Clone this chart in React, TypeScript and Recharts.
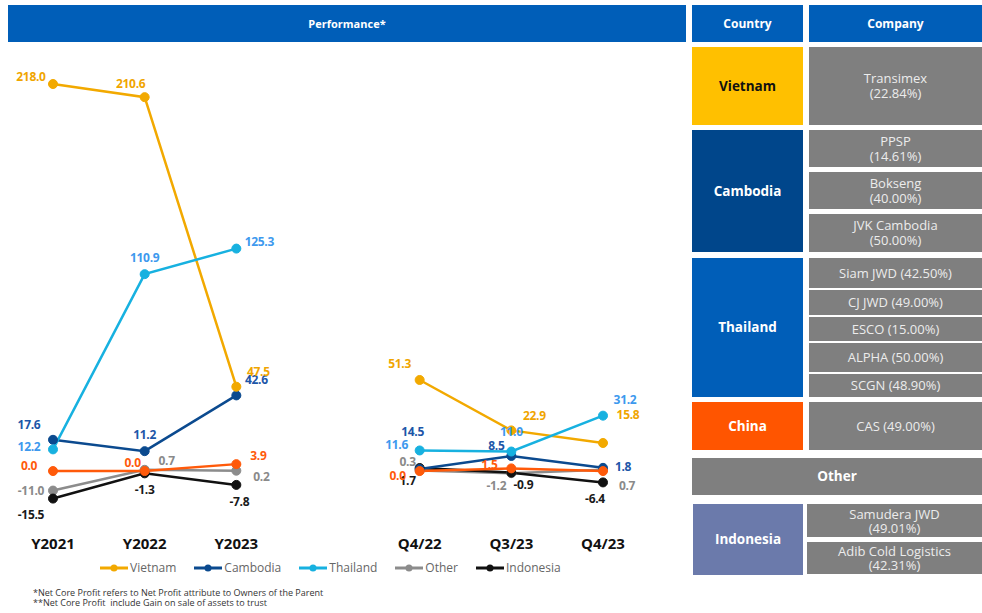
import React from "react";
import { LineChart, Line, XAxis, YAxis, LabelList } from "recharts";

// periods, with an empty slot separating the yearly and quarterly blocks
const periods = ["Y2021", "Y2022", "Y2023", " ", "Q4/22", "Q3/23", "Q4/23"];

const vietnam = [218.0, 210.6, 47.5, null, 51.3, 22.9, 15.8];
const cambodia = [17.6, 11.2, 42.6, null, 1.1, 8.5, 1.8];
const thailand = [12.2, 110.9, 125.3, null, 11.6, 11.0, 31.2];
const china = [0.0, 0.0, 3.9, null, 0.0, 1.5, 0.0];
const other = [-11.0, 0.7, 0.2, null, 0.3, -1.2, 0.7];
const indonesia = [-15.5, -1.3, -7.8, null, 1.7, -0.9, -6.4];

// printed labels (as in the source slide)
const vietnamLabels = ["218.0", "210.6", "47.5", "", "51.3", "22.9", "15.8"];
const cambodiaLabels = ["17.6", "11.2", "42.6", "", "14.5", "8.5", "1.8"];
const thailandLabels = ["12.2", "110.9", "125.3", "", "11.6", "11.0", "31.2"];
const chinaLabels = ["0.0", "0.0", "3.9", "", "0.0", "1.5", ""];
const otherLabels = ["-11.0", "0.7", "0.2", "", "0.3", "-1.2", "0.7"];
const indonesiaLabels = ["-15.5", "-1.3", "-7.8", "", "1.7", "-0.9", "-6.4"];

const data = periods.map((p, i) => ({
  period: p,
  vietnam: vietnam[i],
  cambodia: cambodia[i],
  thailand: thailand[i],
  china: china[i],
  other: other[i],
  indonesia: indonesia[i],
}));

const FONT = "'Open Sans', 'DejaVu Sans', sans-serif";

const SERIES = [
  {
    key: "other",
    name: "Other",
    stroke: "#8c8c8c",
    labelColor: "#8a8a8a",
    labels: otherLabels,
    offsets: [[-22, 0], [22, -9], [25, 6], null, [-12, -9], [-15, 12], [24, 16]],
  },
  {
    key: "indonesia",
    name: "Indonesia",
    stroke: "#111111",
    labelColor: "#1a1a1a",
    labels: indonesiaLabels,
    offsets: [[-22, 16], [0, 16], [3, 17], null, [-12, 12], [12, 12], [-8, 16]],
  },
  {
    key: "cambodia",
    name: "Cambodia",
    stroke: "#0b4a8f",
    labelColor: "#1d56a8",
    labels: cambodiaLabels,
    offsets: [[-24, -15], [0, -17], [20, -16], null, [-7, -38], [-15, -10], [20, -1]],
  },
  {
    key: "vietnam",
    name: "Vietnam",
    stroke: "#f2a900",
    labelColor: "#f0a500",
    labels: vietnamLabels,
    offsets: [[-22, -8], [-14, -14], [22, -15], null, [-20, -16], [23, -15], [25, -28]],
  },
  {
    key: "thailand",
    name: "Thailand",
    stroke: "#17b1e0",
    labelColor: "#3d99ee",
    labels: thailandLabels,
    offsets: [[-24, -3], [0, -17], [23, -7], null, [-23, -6], [0, -20], [22, -16]],
  },
  {
    key: "china",
    name: "China",
    stroke: "#ff5a0a",
    labelColor: "#ff5a0a",
    labels: chinaLabels,
    offsets: [[-24, -6], [-12, -9], [22, -9], null, [-22, 4], [-22, -4], null],
  },
];

const LEGEND = ["vietnam", "cambodia", "thailand", "other", "indonesia"];

const makeLabel = (s: (typeof SERIES)[number]) => (props: any) => {
  const { x, y, index } = props;
  const off = s.offsets[index];
  const text = s.labels[index];
  if (!off || !text || x == null || y == null) return null;
  return (
    <text
      x={x + off[0]}
      y={y + off[1]}
      textAnchor="middle"
      dominantBaseline="central"
      fill={s.labelColor}
      fontSize={12}
      fontWeight={700}
      fontFamily={FONT}
      letterSpacing={-0.3}
    >
      {text}
    </text>
  );
};

const PeriodTick = (props: any) => {
  const { x, payload } = props;
  return (
    <text
      x={x}
      y={549}
      textAnchor="middle"
      fill="#111"
      fontSize={15}
      fontWeight={700}
      fontFamily={FONT}
    >
      {payload.value}
    </text>
  );
};

const cell = (
  left: number,
  top: number,
  width: number,
  height: number,
  bg: string,
  color: string,
  bold: boolean,
  content: React.ReactNode,
  size = 13
) => (
  <div
    style={{
      position: "absolute",
      left,
      top,
      width,
      height,
      background: bg,
      color,
      fontWeight: bold ? 700 : 400,
      fontSize: size,
      fontFamily: FONT,
      display: "flex",
      alignItems: "center",
      justifyContent: "center",
      textAlign: "center",
      lineHeight: "15px",
    }}
  >
    {content}
  </div>
);

const GRAY = "#7f7f7f";
const GTXT = "#ececec";

export default function App() {
  return (
    <div
      style={{
        position: "absolute",
        left: 0,
        top: 0,
        width: 982,
        height: 613,
        background: "#fff",
        overflow: "hidden",
      }}
    >
      {cell(8, 5, 678, 37, "#005eb8", "#fff", true, "Performance*", 11)}

      <div style={{ position: "absolute", left: 0, top: 0 }}>
        <LineChart
          width={660}
          height={613}
          data={data}
          margin={{ top: 62, right: 11, bottom: 42, left: 7 }}
        >
          <XAxis
            dataKey="period"
            height={30}
            axisLine={false}
            tickLine={false}
            tick={<PeriodTick />}
            interval={0}
            padding={{ left: 46, right: 46 }}
          />
          <YAxis
            width={0}
            domain={[-39.4, 230.4]}
            tick={false}
            tickLine={false}
            axisLine={{ stroke: "#c8c8c8", strokeWidth: 1 }}
          />
          {SERIES.map((s) => (
            <Line
              key={s.key}
              dataKey={s.key}
              stroke={s.stroke}
              strokeWidth={2.5}
              dot={{ r: 4.5, fill: s.stroke, stroke: s.stroke, strokeWidth: 1 }}
              type="linear"
              connectNulls={false}
              isAnimationActive={false}
            >
              <LabelList dataKey={s.key} content={makeLabel(s)} />
            </Line>
          ))}
        </LineChart>
      </div>

      {/* legend */}
      <div
        style={{
          position: "absolute",
          left: 100,
          top: 559,
          display: "flex",
          alignItems: "center",
          fontFamily: FONT,
          fontSize: 12,
          color: "#666",
        }}
      >
        {LEGEND.map((k) => {
          const s = SERIES.find((x) => x.key === k)!;
          return (
            <div
              key={k}
              style={{ display: "flex", alignItems: "center", marginRight: 18 }}
            >
              <svg width={28} height={16}>
                <line x1={0} y1={8} x2={28} y2={8} stroke={s.stroke} strokeWidth={3} />
                <circle cx={14} cy={8} r={3.5} fill={s.stroke} />
              </svg>
              <span style={{ marginLeft: 2 }}>{s.name}</span>
            </div>
          );
        })}
      </div>

      <div
        style={{
          position: "absolute",
          left: 33,
          top: 588,
          fontFamily: FONT,
          fontSize: 9,
          lineHeight: "10px",
          color: "#333",
          whiteSpace: "pre",
        }}
      >
        {"*Net Core Profit refers to Net Profit attribute to Owners of the Parent\n**Net Core Profit  include Gain on sale of assets to trust"}
      </div>

      {/* table */}
      {cell(692, 5, 111, 37, "#005eb8", "#fff", true, "Country", 12)}
      {cell(809, 5, 173, 37, "#005eb8", "#fff", true, "Company", 12)}

      {cell(692, 47, 111, 78, "#ffc000", "#111", true, "Vietnam", 13.5)}
      {cell(809, 47, 173, 78, GRAY, GTXT, false, <span>Transimex<br />(22.84%)</span>)}

      {cell(692, 130, 111, 122, "#00468b", "#fff", true, "Cambodia", 13.5)}
      {cell(809, 130, 173, 37, GRAY, GTXT, false, <span>PPSP<br />(14.61%)</span>)}
      {cell(809, 172, 173, 37, GRAY, GTXT, false, <span>Bokseng<br />(40.00%)</span>)}
      {cell(809, 214, 173, 38, GRAY, GTXT, false, <span>JVK Cambodia<br />(50.00%)</span>)}

      {cell(692, 258, 111, 139, "#005eb8", "#fff", true, "Thailand", 13.5)}
      {cell(809, 258, 173, 30, GRAY, GTXT, false, "Siam JWD (42.50%)")}
      {cell(809, 290, 173, 25, GRAY, GTXT, false, "CJ JWD (49.00%)")}
      {cell(809, 317, 173, 24, GRAY, GTXT, false, "ESCO (15.00%)")}
      {cell(809, 343, 173, 29, GRAY, GTXT, false, "ALPHA (50.00%)")}
      {cell(809, 374, 173, 23, GRAY, GTXT, false, "SCGN (48.90%)")}

      {cell(692, 402, 111, 48, "#ff5500", "#fff", true, "China", 13.5)}
      {cell(809, 402, 173, 48, GRAY, GTXT, false, "CAS (49.00%)")}

      {cell(692, 458, 290, 37, GRAY, "#fff", true, "Other", 13.5)}

      {cell(693, 504, 110, 71, "#6b7aab", "#fff", true, "Indonesia", 13.5)}
      {cell(807, 504, 175, 33, GRAY, GTXT, false, <span style={{ lineHeight: "14px" }}>Samudera JWD<br />(49.01%)</span>)}
      {cell(807, 542, 175, 32, GRAY, GTXT, false, <span style={{ lineHeight: "14px" }}>Adib Cold Logistics<br />(42.31%)</span>)}
    </div>
  );
}
